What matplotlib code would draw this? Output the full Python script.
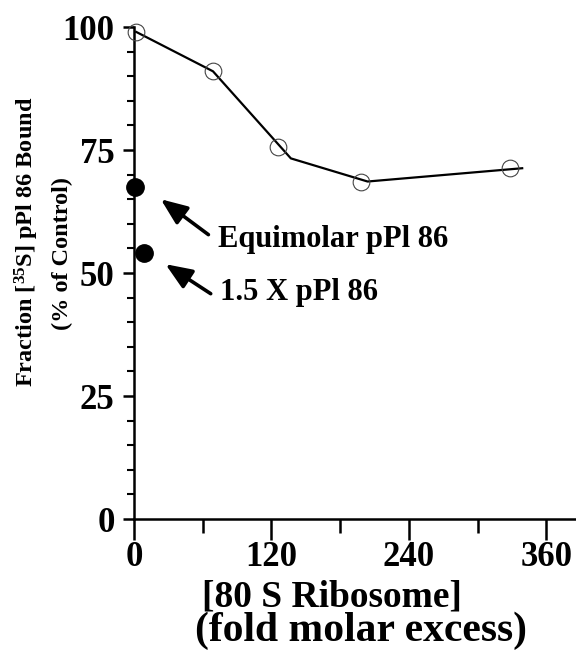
import matplotlib
matplotlib.use('Agg')
import matplotlib.pyplot as plt
from matplotlib.ticker import MultipleLocator

# open circles: 80 S ribosome competition
ribo_x = [2, 69, 126, 198, 328]
ribo_y = [99, 91, 75.6, 68.5, 71.3]
# drawn curve through the points
curve_x = [2, 69, 137, 204, 339]
curve_y = [99, 91, 73.3, 68.6, 71.3]
# filled circles: pPl 86 competitor
comp_x = [1, 9]
comp_y = [67.5, 54]
comp_labels = ['Equimolar pPl 86', '1.5 X pPl 86']
label_pos = [(73.5, 55.3), (75.3, 44.5)]
arrow_head = [(23.4, 65.0), (27.5, 51.8)]
arrow_tail = [(65, 57.8), (67, 45.8)]

plt.rcParams['font.family'] = ['Liberation Serif', 'DejaVu Serif']
plt.rcParams['font.weight'] = 'bold'
plt.rcParams['mathtext.default'] = 'regular'

fig = plt.figure(figsize=(5.76, 6.56), dpi=100)
ax = fig.add_axes([0.2326, 0.2088, 0.7674, 0.75])

ax.plot(curve_x, curve_y, color='black', lw=1.6, zorder=2, clip_on=False)
ax.plot(ribo_x, ribo_y, 'o', ms=12, mfc='none', mec='#444444', mew=0.8,
        zorder=3, clip_on=False)
ax.plot(comp_x, comp_y, 'o', ms=12.5, color='black', zorder=3, clip_on=False)

for lab, pos, hd, tl in zip(comp_labels, label_pos, arrow_head, arrow_tail):
    ax.annotate('', xy=hd, xytext=tl,
                arrowprops=dict(arrowstyle='-|>,head_length=1.6,head_width=0.65',
                                color='black', lw=2.6, shrinkA=0, shrinkB=0))
    ax.text(pos[0], pos[1], lab, fontsize=22, fontweight='bold',
            ha='left', va='baseline')

ax.set_xlim(0, 386)
ax.set_ylim(0, 100)
ax.spines['top'].set_visible(False)
ax.spines['right'].set_visible(False)
ax.spines['left'].set_bounds(0, 100)
for s in ['left', 'bottom']:
    ax.spines[s].set_linewidth(1.8)

ax.xaxis.set_major_locator(MultipleLocator(120))
ax.xaxis.set_minor_locator(MultipleLocator(60))
ax.yaxis.set_major_locator(MultipleLocator(25))
ax.yaxis.set_minor_locator(MultipleLocator(5))
ax.set_xticks([0, 120, 240, 360])
ax.tick_params(axis='x', which='major', direction='out', length=15, width=1.8,
               labelsize=25, pad=1)
ax.tick_params(axis='x', which='minor', direction='out', length=10, width=1.8)
ax.tick_params(axis='y', which='major', direction='out', length=8, width=1.8,
               labelsize=25, pad=6)
ax.tick_params(axis='y', which='minor', direction='out', length=5, width=1.5)
for t in ax.get_xticklabels() + ax.get_yticklabels():
    t.set_fontweight('bold')

fig.text(332 / 576, 1 - 597 / 656, '[80 S Ribosome]', ha='center',
         va='center', fontsize=27, fontweight='bold')
fig.text(361 / 576, 1 - 631 / 656, '(fold molar excess)', ha='center',
         va='center', fontsize=30, fontweight='bold')
fig.text(0.047, 0.631, 'Fraction [$^{35}$S] pPl 86 Bound', rotation=90,
         ha='center', va='center', fontsize=17.5, fontweight='bold')
fig.text(0.108, 0.613, '(% of Control)', rotation=90,
         ha='center', va='center', fontsize=17.5, fontweight='bold')

fig.savefig('out.png', dpi=100)
